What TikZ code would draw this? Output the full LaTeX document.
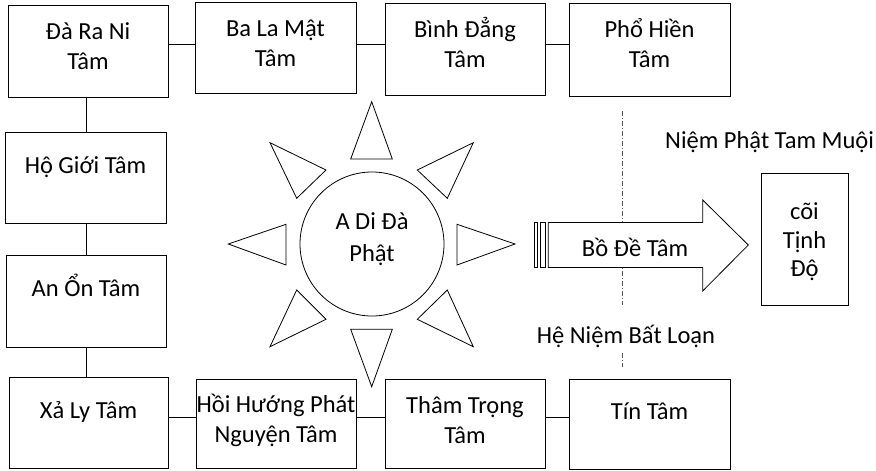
\documentclass[tikz,border=0pt]{standalone}
\usepackage{fontspec}
\setmainfont{Carlito}
\begin{document}
\begin{tikzpicture}[x=1pt,y=-1pt,
  bx/.style={draw=black, line width=0.9pt, inner sep=0pt, fill=white},
  tx/.style={align=center, inner sep=0pt, anchor=base, font=\fontsize{24.5}{30}\selectfont},
  ln/.style={draw=black, line width=0.9pt},
  ray/.style={draw=black, line width=0.8pt, line join=miter, fill=white},
  divider/.style={draw=black!65, line width=0.8pt, dash pattern=on 5pt off 2pt on 1pt off 2pt}]
\useasboundingbox (0,0) rectangle (876,471);
% helper coordinates
\coordinate (toprow) at (0,44.5);
\coordinate (botrow) at (0,417);
\coordinate (vx) at (86,0);
% boxes
\node[bx, minimum width=160, minimum height=92] (b1) at (88,51) {};
\node[bx, minimum width=161, minimum height=91] (b2) at (275.5,47.5) {};
\node[bx, minimum width=160, minimum height=92] (b3) at (465,49) {};
\node[bx, minimum width=161, minimum height=93] (b4) at (649.5,49.5) {};
\node[bx, minimum width=161, minimum height=91] (l1) at (85.5,177.5) {};
\node[bx, minimum width=160, minimum height=92] (l2) at (86,301) {};
\node[bx, minimum width=159, minimum height=91] (d1) at (88.5,422.5) {};
\node[bx, minimum width=160, minimum height=89] (d2) at (276,423.5) {};
\node[bx, minimum width=160, minimum height=89] (d3) at (465,423.5) {};
\node[bx, minimum width=161, minimum height=90] (d4) at (649.5,424) {};
\node[bx, minimum width=87, minimum height=132] (land) at (804.5,239) {};
% texts (anchor = baseline of last line)
\node[tx] (t1) at (88,69.5) {Đà Ra Ni\\Tâm};
\node[tx] (t2) at (275.5,66) {Ba La Mật\\Tâm};
\node[tx] (t3) at (465,67.5) {Bình Đẳng\\Tâm};
\node[tx] (t4) at (649.5,67.5) {Phổ Hiền\\Tâm};
\node[tx] (t5) at (85.5,173.5) {Hộ Giới Tâm};
\node[tx] (t6) at (86,296) {An Ổn Tâm};
\node[tx] (t7) at (88.5,418) {Xả Ly Tâm};
\node[tx] (t8) at (276,442.5) {Hồi Hướng Phát\\Nguyện Tâm};
\node[tx] (t9) at (465,443) {Thâm Trọng\\Tâm};
\node[tx] (t10) at (649.5,419) {Tín Tâm};
\node[tx, font=\fontsize{24.5}{28.7}\selectfont] (t11) at (804.5,276.7) {cõi\\Tịnh\\Độ};
% connectors
\draw[ln] (b1.east |- toprow) -- (b2.west |- toprow);
\draw[ln] (b2.east |- toprow) -- (b3.west |- toprow);
\draw[ln] (b3.east |- toprow) -- (b4.west |- toprow);
\draw[ln] (vx |- b1.south) -- (vx |- l1.north);
\draw[ln] (vx |- l1.south) -- (vx |- l2.north);
\draw[ln] (vx |- l2.south) -- (vx |- d1.north);
\draw[ln] (d1.east |- botrow) -- (d2.west |- botrow);
\draw[ln] (d2.east |- botrow) -- (d3.west |- botrow);
\draw[ln] (d3.east |- botrow) -- (d4.west |- botrow);
% sun
\node[circle, draw=black, line width=0.8pt, minimum size=144, inner sep=0pt] (sun) at (372,244) {};
\node[tx, font=\fontsize{24.5}{32}\selectfont] (sunt) at (372,261.3) {A Di Đà\\Phật};
\draw[ray] (371.7,101.7) -- (392.3,159) -- (350.7,159) -- cycle;
\draw[ray] (371.7,386.7) -- (392.3,329.3) -- (350.7,329.3) -- cycle;
\draw[ray] (228.3,244) -- (286,224.3) -- (286,265) -- cycle;
\draw[ray] (515,244) -- (457,224.3) -- (457,265) -- cycle;
\draw[ray] (270,142.7) -- (326,170) -- (296.7,198.3) -- cycle;
\draw[ray] (473.3,142.7) -- (417.3,170) -- (447.3,198.3) -- cycle;
\draw[ray] (270,346.7) -- (296.7,290) -- (326,319.3) -- cycle;
\draw[ray] (473.3,346.7) -- (447.3,290) -- (417.3,319.3) -- cycle;
% divider
\draw[divider] (622,111) -- (622,305);
\draw[divider] (622,353) -- (622,367);
% striped arrow
\draw[ray] (534,222.5) rectangle (537.7,267.5);
\draw[ray] (540,222.5) rectangle (545.7,267.5);
\draw[ray] (548.3,222.5) -- (702.7,222.5) -- (702.7,200) -- (748.3,245) -- (702.7,291) -- (702.7,267.5) -- (548.3,267.5) -- cycle;
\node[tx] (arrt) at (635,256) {Bồ Đề Tâm};
% labels
\node[tx, anchor=base west] (lab1) at (665,148.3) {Niệm Phật Tam Muội};
\node[tx, anchor=base west] (lab2) at (536.7,343.3) {Hệ Niệm Bất Loạn};
\end{tikzpicture}
\end{document}
